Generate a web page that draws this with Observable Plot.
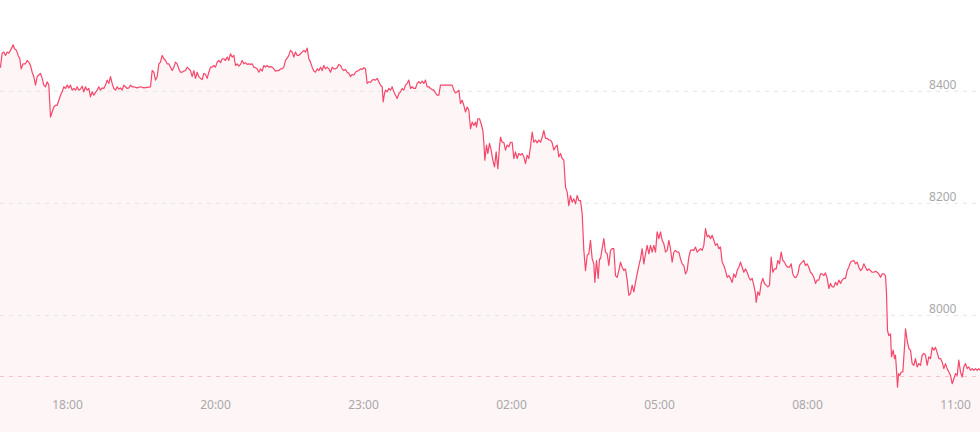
<!DOCTYPE html>
<html>
<head>
<meta charset="utf-8">
<script src="https://cdn.jsdelivr.net/npm/d3@7"></script>
<script src="https://cdn.jsdelivr.net/npm/@observablehq/plot@0.6"></script>
<style>
  html, body { margin: 0; padding: 0; background: #ffffff; }
  #chart svg { display: block; }
</style>
</head>
<body>
<div id="chart"></div>
<script>
// bar index (sample position along the session) and price
const bar = [
  0,5,10,15,20,25,30,38,42,48,53,58,62,68,75,80,85,90,95,100,105,110,115,120,125,130,135,140,145,
  150,155,160,165,170,175,180,185,190,195,200,205,210,215,220,225,230,235,240,245,250,255,260,265,
  270,275,280,285,290,295,300,305,310,315,320,325,330,335,340,345,350,355,360,365,370,375,380,385,
  390,395,400,410,420,430,440,450,455,460,465,470,475,480,485,490,495,500,505,510,515,520,525,530,
  535,540,545,550,555,560,565,570,575,580,585,590,595,
  600,605,610,615,620,625,630,635,640,645,650,655,660,665,670,675,680,685,690,695,700,705,710,715,
  720,725,730,735,740,745,750,755,760,765,770,775,780,785,790,795,800,805,810,815,820,825,830,835,
  840,845,850,855,860,865,870,875,880,885,890,895,900,905,910,915,920,925,930,935,940,945,950,955,
  960,965,970,975,980,985,990,995,1000,1005,1010,1015,1020,1025,1030,1035,1040,1045,1050,1055,1060,
  1065,1070,1075,1080,1085,1090,1095,1100,1105,1110,1115,1120,1125,1130,1135,1140,1145,1148,1152,
  1155,1160,1165,1170,1175,1180,1185,1190,1195,
  1200,1205,1210,1215,1220,1225,1230,1235,1240,1245,1250,1255,1260,1265,1270,1275,1280,1285,1290,
  1295,1300,1305,1310,1315,1320,1330,1340,1350,1355,1360,1365,1370,1375,1380,1385,1390,1395,1400,
  1405,1410,1415,1420,1425,1428,1432,1437,1442,1447,1450,1453,1458,1462,1467,1472,1477,1482,1487,
  1492,1497,1500,1505,1510,1515,1520,1525,1530,1535,1540,1545,1550,1555,1560,1565,1570,1575,1580,
  1585,1590,1595,1600,1605,1610,1615,1620,1625,1630,1635,1640,1645,1650,1655,1660,1665,1670,1675,
  1680,1685,1690,1695,1700,1705,1710,1715,1720,1725,1730,1735,1740,1745,1750,1755,1760,1765,1770,
  1775,1780,1783,1788,1793,1797,
  1800,1805,1810,1815,1820,1825,1830,1835,1840,1845,1850,1855,1860,1865,1870,1875,1880,1885,1890,
  1895,1900,1905,1910,1915,1920,1925,1930,1935,1940,1945,1950,1955,1960,1965,1970,1975,1980,1985,
  1990,1995,2000,2005,2010,2015,2020,2025,2030,2035,2040,2045,2050,2055,2060,2065,2070,2075,2080,
  2085,2090,2095,2100,2105,2110,2115,2120,2125,2130,2135,2140,2145,2150,2155,2160,2165,2170,2175,
  2180,2185,2190,2195,2200,2205,2210,2215,2220,2225,2230,2235,2240,2245,2250,2255,2260,2265,2267,
  2272,2277,2282,2287,2292,2297,2302,2307,2312,2317,2322,2327,2332,2337,2342,2347,2352,2357,2362,
  2367,2372,2377,2382,2387,2392,2397,
  2400,2405,2410,2415,2420,2425,2430,2435,2440,2445,2450,2455,2460,2465,2470,2475,2480,2485,2490,
  2495,2500,2505,2510,2515,2520,2525,2530,2535,2540,2545,2550,2555,2560,2565,2570,2575,2580,2585,
  2590,2595,2600,2605,2610,2615,2620,2625,2630,2635,2640,2645,2650,2655,2658,2661,2665,2670,2673,
  2678,2682,2685,2688,2691,2694,2698,2702,2707,2712,2715,2720,2725,2730,2735,2740,2745,2750,2755,
  2760,2765,2770,2775,2780,2785,2790,2795,2800,2805,2810,2815,2820,2825,2830,2835,2840,2845,2850,
  2855,2860,2865,2870,2875,2880,2885,2890,2895,2900,2905,2910,2915,2920,2925,2930,2935,2940
];
const price = [
  8443,8468,8470,8464,8470,8468,8473,8483,8476,8473,8464,8458,8440,8449,8449,8455,8452,8446,8434,
  8426,8411,8426,8429,8432,8423,8411,8408,8417,8411,
  8354,8363,8372,8375,8375,8384,8393,8399,8408,8405,8411,8406,8411,8402,8405,8402,8408,8402,8404,
  8409,8399,8408,8402,8405,
  8390,8399,8393,8398,8402,8408,8402,8406,8405,8411,8420,8414,8426,8414,8405,8402,8408,8404,8406,
  8402,8411,8408,8405,8406,
  8411,8408,8408,8406,8408,8406,8407,8408,8437,8434,8420,8426,8449,8452,8464,8458,8455,8449,8449,
  8443,8437,8443,8452,8449,
  8440,8434,8434,8436,8437,8443,8440,8437,8426,8437,8423,8434,8426,
  8423,8421,8432,8430,8423,8434,8443,8443,8446,8443,8452,8455,8451,8458,8458,8455,8461,8455,8467,
  8461,8464,8446,8449,8445,
  8448,8455,8449,8451,8448,8449,8448,8449,8443,8442,8440,8434,8440,8436,8446,8443,8446,8443,8444,
  8443,8440,8436,8437,8437,
  8440,8440,8443,8455,8459,8464,8473,8470,8461,8470,8464,8464,8467,8470,8473,8470,8477,8458,8452,
  8443,8436,8434,8440,8437,
  8443,8437,8446,8440,8443,8440,8434,8443,8440,8440,8442,8448,8446,8440,8437,8439,8434,8432,8426,
  8430,8429,8434,8436,8437,
  8440,8439,8442,8440,8414,8417,8416,8420,8421,8420,8423,8417,8411,8408,8381,8396,
  8402,8399,8405,8402,8408,8399,8393,8387,8396,
  8399,8405,8402,8411,8414,8420,8405,8408,8405,8405,8414,8417,8414,8418,8414,8420,8408,8408,8405,
  8403,8402,8397,8393,8393,8411,8411,8411,8411,8411,8402,8397,8399,8402,8378,8384,8375,8363,8372,
  8366,8333,8345,8339,8345,8336,8351,8351,8342,8330,8309,8277,8304,8289,8307,8295,8277,8265,8292,
  8262,8301,8318,8309,8309,8295,8304,8301,8309,8309,8280,8292,8280,8289,8286,8289,8283,8271,8286,
  8280,8301,8327,8309,8313,8308,8313,8309,8318,8330,8316,8316,8313,8313,8308,8295,8301,8304,8283,
  8289,8280,8277,8229,8220,8196,8214,8202,8208,8199,8214,8205,8205,8182,8116,8080,8107,8110,8134,
  8101,8092,8059,8098,8066,8101,
  8101,8119,8137,8113,8110,8089,8116,8119,8119,8071,8068,8080,8095,8086,8080,8083,8063,8036,8039,
  8054,8042,8059,8074,8089,8101,8119,8092,8110,8125,8110,8125,8113,8125,8113,8149,8137,8149,8134,
  8128,8113,8116,8134,8119,8095,8113,8116,8113,8113,8101,8092,8089,8074,8080,8104,8116,8117,8116,
  8122,8113,8116,8119,8116,8125,8155,8140,8143,8137,8143,8134,8125,8128,8119,8122,8095,8089,8080,
  8068,8071,8066,8059,8074,8068,8080,8086,8095,8086,8077,8083,8077,8068,8063,8066,8054,8039,8023,
  8042,8036,8057,8066,8057,8054,8051,8054,8104,8077,8083,8083,8098,8092,8113,8098,8095,8089,8086,
  8086,8092,8074,8068,8068,8074,8089,
  8092,8095,8098,8089,8092,8086,8077,8074,8068,8057,8063,8063,8074,8074,8071,8076,8066,8048,8057,
  8051,8051,8059,8054,8063,8057,8063,8066,8066,8080,8086,8095,8097,8098,8092,8095,8086,8080,8083,
  8092,8086,8080,8083,8080,8077,8077,8079,8077,8074,8068,8074,8074,8071,8039,7973,7964,7967,7926,
  7938,7923,7929,7902,7872,7896,7893,7899,7899,7943,7976,7955,7941,7938,7914,7911,7923,7908,7914,
  7911,7929,7932,7929,7911,7926,7923,7943,7938,7943,7934,7923,7923,7917,7905,7914,7905,7899,7893,
  7878,7887,7896,7893,7920,7899,7890,7908,7914,7905,7908,7902,7905,7902,7905,7902,7905,7902
];

// x-axis labels and the bar positions where they sit
const tickBars = [201, 645, 1089, 1533, 1977, 2421, 2865];
const tickLabels = ["18:00", "20:00", "23:00", "02:00", "05:00", "08:00", "11:00"];

// y-axis ticks and the reference (dashed pink) level
const yTicks = [8000, 8200, 8400];
const refPrice = 7891;

// scale configuration
const xDomain = [0, 2940];
const yDomain = [7791, 8562];

const data = bar.map((b, i) => ({bar: b, price: price[i]}));

const lineColor = "#f5476a";
const font = "'Noto Sans', 'Open Sans', sans-serif";

const chart = Plot.plot({
  width: 980,
  height: 432,
  margin: 0,
  style: {fontFamily: font, fontSize: "12px", background: "transparent", overflow: "visible"},
  x: {domain: xDomain, axis: null},
  y: {domain: yDomain, axis: null},
  marks: [
    Plot.areaY(data, {x: "bar", y1: yDomain[0], y2: "price", fill: lineColor, fillOpacity: 0.055, curve: "linear"}),
    Plot.ruleY(yTicks, {stroke: "#e6e6e6", strokeWidth: 1, strokeDasharray: "4,5"}),
    Plot.ruleY([refPrice], {stroke: "#ffbfcc", strokeWidth: 1, strokeDasharray: "4,5"}),
    Plot.line(data, {x: "bar", y: "price", stroke: lineColor, strokeWidth: 1.2, curve: "linear"}),
    Plot.text(yTicks, {
      y: d => d, text: d => String(d), frameAnchor: "right", dx: -24, dy: -2,
      textAnchor: "end", lineAnchor: "bottom", fill: "#a8a8a8", fontSize: 12
    }),
    Plot.text(tickBars, {
      x: d => d, text: (d, i) => tickLabels[i], frameAnchor: "bottom", dy: -27.5,
      textAnchor: "middle", lineAnchor: "middle", fill: "#a8a8a8", fontSize: 12
    })
  ]
});

document.getElementById("chart").appendChild(chart);
</script>
</body>
</html>
